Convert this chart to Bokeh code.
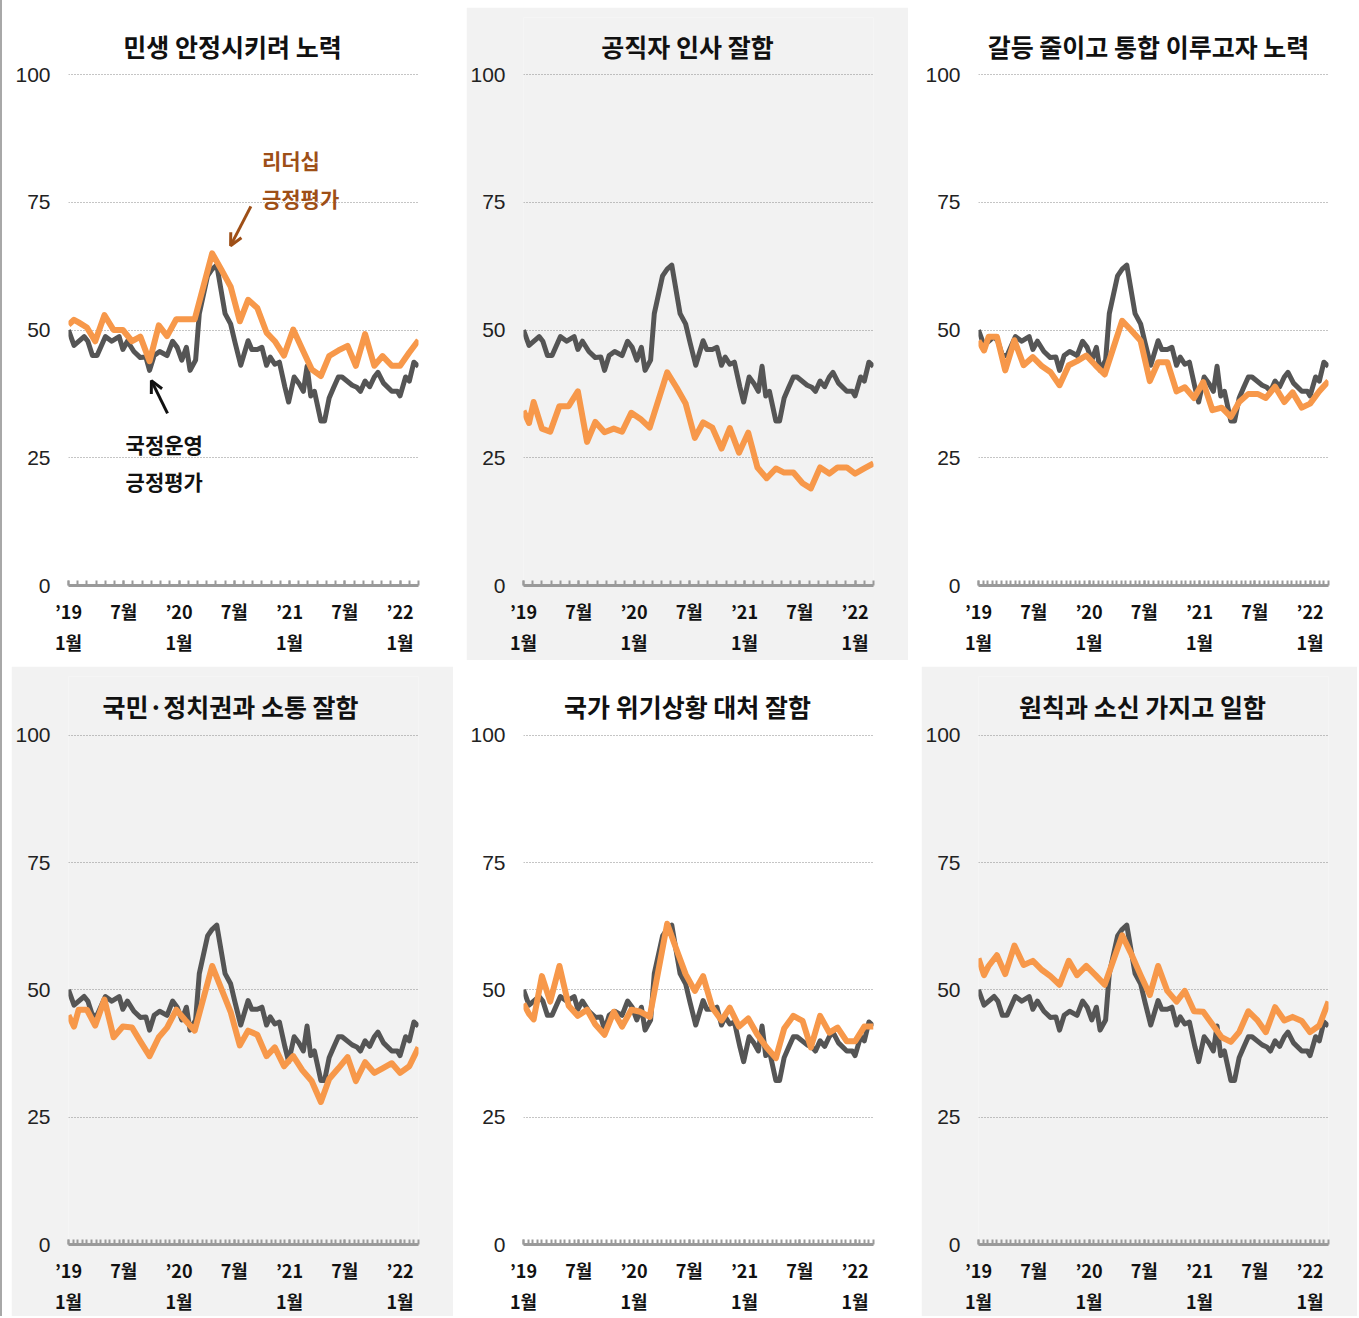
import numpy as np
from bokeh.plotting import figure
from bokeh.layouts import row, column
from bokeh.models import Range1d, FixedTicker, Label, Arrow, OpenHead, Spacer
from bokeh.embed import file_html
from bokeh.resources import INLINE

# ---------------- data (x = months since Jan 2019) ----------------
APPROVAL_T = [0.0, 0.6, 1.7, 2.1, 2.6, 3.1, 4.0, 4.7, 5.5, 5.9,
              6.4, 7.1, 7.8, 8.4, 8.8, 9.3, 9.9, 10.7, 11.3, 11.8,
              12.3, 12.8, 13.2, 13.8, 14.2, 15.1, 15.6, 16.1, 17.0, 17.6,
              18.1, 18.7, 19.5, 19.9, 20.5, 21.0, 21.5, 21.9, 22.4, 22.9,
              23.5, 23.9, 24.5, 25.0, 25.5, 25.9, 26.3, 26.7, 27.4, 27.8,
              28.3, 28.8, 29.3, 29.7, 30.8, 31.3, 31.7, 32.2, 32.7, 33.2,
              33.6, 34.2, 35.1, 35.7, 36.0, 36.6, 37.0, 37.5, 38.0]
APPROVAL = [50.0, 47.0, 48.7, 47.8, 45.0, 45.0, 48.7, 47.8, 48.7, 46.2,
            47.8, 45.8, 44.6, 44.7, 42.1, 45.0, 45.8, 45.0, 47.8, 46.6,
            44.1, 46.6, 42.1, 44.1, 53.2, 60.6, 61.9, 62.7, 53.2, 51.2,
            47.4, 43.1, 47.9, 46.2, 46.2, 46.6, 43.1, 44.7, 43.3, 43.7,
            38.8, 35.9, 40.8, 39.6, 38.0, 42.9, 37.1, 38.0, 32.2, 32.2,
            36.7, 38.8, 40.8, 40.8, 39.2, 38.8, 38.0, 40.0, 38.9, 40.8,
            41.7, 39.6, 38.0, 38.0, 37.1, 40.8, 40.0, 43.7, 42.9]

SURVEY_T = [0.0, 0.6, 1.1, 2.0, 2.9, 3.9, 4.9, 5.9, 6.9, 7.8,
            8.8, 9.8, 10.7, 11.7, 12.7, 13.7, 15.6, 16.6, 17.6, 18.6,
            19.5, 20.5, 21.5, 22.4, 23.4, 24.4, 25.4, 26.4, 27.4, 28.3,
            29.3, 30.3, 31.2, 32.2, 33.2, 34.1, 35.1, 36.0, 37.0, 38.0]

LEAD_LIVELIHOOD = [51.0, 52.0, 51.5, 50.5, 47.8, 52.9, 50.0, 50.0, 47.8, 48.7,
                   43.9, 50.9, 48.8, 52.1, 52.1, 52.1, 65.0, 61.8, 58.5, 51.7,
                   55.9, 54.3, 49.5, 47.8, 45.0, 50.1, 46.2, 42.3, 41.0, 44.9,
                   46.0, 46.9, 43.0, 49.2, 43.0, 44.9, 43.0, 43.0, 45.6, 48.0]
LEAD_APPOINT = [34.2, 31.8, 35.9, 30.7, 30.1, 35.1, 35.1, 38.0, 28.1, 32.0,
                30.0, 30.7, 30.1, 33.8, 32.6, 30.9, 41.7, 38.8, 35.6, 28.9,
                31.9, 30.9, 26.8, 30.8, 26.0, 29.9, 23.1, 21.0, 22.9, 22.1,
                22.1, 20.0, 19.0, 23.1, 21.9, 23.1, 23.1, 21.9, 22.9, 23.9]
LEAD_UNITY = [47.9, 46.0, 48.7, 48.7, 42.1, 48.0, 43.1, 44.7, 42.9, 41.8,
              39.2, 43.1, 43.9, 45.0, 43.1, 41.3, 51.8, 49.9, 47.9, 40.0,
              43.7, 43.7, 38.0, 38.8, 36.7, 39.8, 34.3, 34.8, 33.0, 35.9,
              37.5, 37.5, 36.7, 38.9, 35.9, 37.8, 34.8, 35.6, 38.0, 40.0]
LEAD_COMM = [45.0, 42.8, 46.1, 46.1, 43.0, 48.1, 40.7, 42.8, 42.6, 39.9,
             37.0, 40.7, 42.6, 46.1, 44.0, 42.0, 54.7, 50.2, 45.7, 39.1,
             42.0, 41.2, 37.0, 38.7, 35.0, 37.0, 34.2, 32.1, 28.0, 32.5,
             34.6, 36.8, 32.1, 35.8, 33.7, 34.6, 35.6, 33.7, 35.0, 38.7]
LEAD_CRISIS = [47.3, 45.3, 44.2, 52.7, 47.7, 54.7, 46.9, 44.9, 46.1, 43.2,
               41.2, 45.7, 42.8, 46.1, 45.7, 44.7, 63.0, 58.0, 53.1, 49.8,
               52.7, 46.5, 44.0, 46.5, 42.8, 44.4, 41.2, 38.7, 36.6, 42.4,
               44.9, 43.9, 38.7, 44.9, 41.6, 42.6, 39.9, 39.9, 42.8, 42.8]
LEAD_PRINCIPLE = [56.2, 52.9, 54.7, 56.8, 53.1, 58.7, 54.9, 55.7, 53.9, 52.7,
                  51.0, 55.7, 52.9, 54.7, 52.9, 51.0, 60.7, 57.0, 52.9, 49.0,
                  54.7, 49.8, 47.7, 49.8, 45.8, 45.7, 43.2, 40.7, 39.8, 41.7,
                  45.8, 44.0, 41.7, 46.6, 44.0, 44.7, 43.9, 41.7, 43.0, 47.7]

TITLES = ["민생 안정시키려 노력", "공직자 인사 잘함", "갈등 줄이고 통합 이루고자 노력",
          "국민·정치권과 소통 잘함", "국가 위기상황 대처 잘함", "원칙과 소신 가지고 일함"]

Y_TICKS = [0, 25, 50, 75, 100]
X_TICKS = [0, 6, 12, 18, 24, 30, 36]
X_LABELS = ["’19\n1월", "7월", "’20\n1월", "7월", "’21\n1월", "7월", "’22\n1월"]

# ---------------- style ----------------
X_MIN, X_MAX = 0, 38
GREY = "#555555"
ORANGE = "#F7984A"
BROWN = "#9E4F17"
PANEL_BG = "#F2F2F2"
KR = "Noto Sans CJK KR"
FRAME_W = 350
PX_PER_UNIT = 5.11          # 0..100 spans 511 px
TOP_BORDER = 10
TITLE_Y = 540 / PX_PER_UNIT  # title centre, 540 px above the zero line


def make_panel(title, lead, bg, width, height, bottom, right, minor_step, title_dx=164):
    frame_h = height - TOP_BORDER - bottom
    y_end = frame_h / PX_PER_UNIT
    p = figure(width=width, height=height, output_backend="svg", toolbar_location=None,
               x_range=Range1d(X_MIN, X_MAX), y_range=Range1d(0, y_end),
               min_border_left=57, min_border_right=right,
               min_border_top=TOP_BORDER, min_border_bottom=bottom,
               background_fill_color=bg, border_fill_color=bg,
               outline_line_color=None)

    # grid
    p.xgrid.visible = False
    p.ygrid.ticker = FixedTicker(ticks=Y_TICKS[1:])
    p.ygrid.grid_line_color = "#8a8a8a"
    p.ygrid.grid_line_dash = "1 2"
    p.ygrid.grid_line_width = 1.2

    # y axis
    p.yaxis.ticker = FixedTicker(ticks=Y_TICKS)
    p.yaxis.axis_line_color = None
    p.yaxis.major_tick_line_color = None
    p.yaxis.minor_tick_line_color = None
    p.yaxis.major_tick_in = 0
    p.yaxis.major_tick_out = 0
    p.yaxis.minor_tick_in = 0
    p.yaxis.minor_tick_out = 0
    p.yaxis.major_label_standoff = 18
    p.yaxis.major_label_text_font = "Liberation Sans"
    p.yaxis.major_label_text_font_size = "21px"
    p.yaxis.major_label_text_color = "#222222"

    # x axis
    minor = [float(v) for v in np.arange(X_MIN, X_MAX + 0.001, minor_step)]
    p.xaxis.ticker = FixedTicker(ticks=X_TICKS, minor_ticks=minor)
    p.xaxis.major_label_overrides = {t: l for t, l in zip(X_TICKS, X_LABELS)}
    p.xaxis.axis_line_color = "#9a9a9a"
    p.xaxis.axis_line_width = 3
    p.xaxis.major_tick_in = 5
    p.xaxis.major_tick_out = 0
    p.xaxis.minor_tick_in = 5
    p.xaxis.minor_tick_out = 0
    p.xaxis.major_tick_line_color = "#9a9a9a"
    p.xaxis.minor_tick_line_color = "#9a9a9a"
    p.xaxis.major_tick_line_width = 2
    p.xaxis.minor_tick_line_width = 2
    p.xaxis.major_label_standoff = 12
    p.xaxis.major_label_text_font = KR
    p.xaxis.major_label_text_font_size = "18px"
    p.xaxis.major_label_text_font_style = "bold"
    p.xaxis.major_label_text_line_height = 1.2
    p.xaxis.major_label_text_color = "#111111"

    # data lines
    p.line(APPROVAL_T, APPROVAL, line_color=GREY, line_width=5, line_join="round")
    p.line(SURVEY_T, lead, line_color=ORANGE, line_width=6, line_join="round")

    # panel title (centred on the panel)
    p.add_layout(Label(x=X_MAX * title_dx / FRAME_W, y=TITLE_Y, text=title,
                       text_font=KR, text_font_size="25px", text_font_style="bold",
                       text_align="center", text_baseline="middle", text_color="#111111"))
    return p


p1 = make_panel(TITLES[0], LEAD_LIVELIHOOD, "white", 442, 653, 75, 35, 1.0)
p2 = make_panel(TITLES[1], LEAD_APPOINT, PANEL_BG, 442, 653, 75, 35, 1.0)
p3 = make_panel(TITLES[2], LEAD_UNITY, "white", 436, 653, 75, 29, 0.5, title_dx=170)
p4 = make_panel(TITLES[3], LEAD_COMM, PANEL_BG, 442, 650, 70, 35, 0.5, title_dx=162)
p5 = make_panel(TITLES[4], LEAD_CRISIS, "white", 442, 650, 70, 35, 0.5)
p6 = make_panel(TITLES[5], LEAD_PRINCIPLE, PANEL_BG, 436, 650, 70, 29, 0.5)

# annotations on the first panel
for txt, yv in (("리더십", 83.2), ("긍정평가", 75.9)):
    p1.add_layout(Label(x=21.0, y=yv, text=txt, text_font=KR, text_font_size="21px",
                        text_font_style="bold", text_color=BROWN,
                        text_align="left", text_baseline="middle"))
p1.add_layout(Arrow(end=OpenHead(size=12, line_color=BROWN, line_width=3),
                    x_start=19.8, y_start=74.2, x_end=17.6, y_end=66.5,
                    line_color=BROWN, line_width=3))
for txt, yv in (("국정운영", 27.6), ("긍정평가", 20.5)):
    p1.add_layout(Label(x=6.2, y=yv, text=txt, text_font=KR, text_font_size="21px",
                        text_font_style="bold", text_color="#111111",
                        text_align="left", text_baseline="middle"))
p1.add_layout(Arrow(end=OpenHead(size=12, line_color="#111111", line_width=3),
                    x_start=10.75, y_start=33.7, x_end=9.0, y_end=40.1,
                    line_color="#111111", line_width=3))

top = row(p1, p2, p3, spacing=13)
bottom = row(p4, p5, p6, spacing=13)
grid = column(top, bottom, spacing=6, margin=(7, 0, 0, 9))
edge = Spacer(width=2, height=1316, styles={"background-color": "#a8a8a8"})
layout = row(edge, grid)

open("out.html", "w").write(file_html(layout, INLINE, title="리더십 긍정평가"))
